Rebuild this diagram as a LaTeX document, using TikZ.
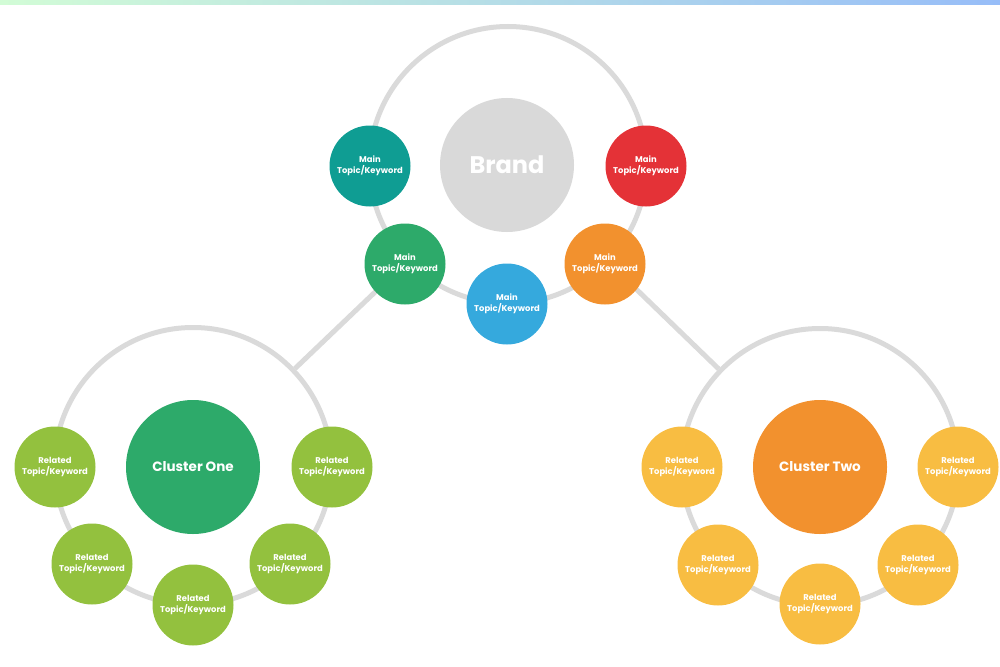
\documentclass[tikz,border=0pt]{standalone}
\usepackage{fontspec}
\setmainfont{Poppins}
\definecolor{barL}{HTML}{D2FCD6}
\definecolor{barR}{HTML}{97BDF8}
\definecolor{ringgray}{HTML}{DADADA}
\definecolor{brandgray}{HTML}{D9D9D9}
\definecolor{cteal}{HTML}{0F9D93}
\definecolor{cred}{HTML}{E43237}
\definecolor{cgreen}{HTML}{2DAA6A}
\definecolor{cblue}{HTML}{35A9DD}
\definecolor{corange}{HTML}{F2912E}
\definecolor{clime}{HTML}{93C13E}
\definecolor{cyellow}{HTML}{F8BD42}
\begin{document}
\begin{tikzpicture}[x=1pt,y=-1pt,
  ring/.style={circle, draw=ringgray, line width=5pt, minimum size=277pt, inner sep=0pt},
  link/.style={draw=ringgray, line width=5pt},
  ball/.style={circle, inner sep=0pt, minimum size=81pt, text=white, align=center,
    font=\bfseries\fontsize{8.4}{11}\selectfont},
  bigball/.style={circle, inner sep=0pt, minimum size=134pt, text=white, align=center}]
\useasboundingbox (0,0) rectangle (1000,666);
\shade[left color=barL, right color=barR] (0,0) rectangle (1000,4.5);
% rings
\node[ring] (brandring) at (508,165) {};
\node[ring] (ringone) at (193,466) {};
\node[ring] (ringtwo) at (820,467) {};
\draw[link] (brandring) -- (ringone);
\draw[link] (brandring) -- (ringtwo);
% brand
\node[bigball, fill=brandgray, font=\bfseries\fontsize{24}{28}\selectfont] (brand) at (507,165) {Brand};
\node[ball, fill=cteal] (m1) at (370,166) {Main\\Topic/Keyword};
\node[ball, fill=cred] (m2) at (646,166) {Main\\Topic/Keyword};
\node[ball, fill=cgreen] (m3) at (405,264) {Main\\Topic/Keyword};
\node[ball, fill=cblue] (m4) at (507,304) {Main\\Topic/Keyword};
\node[ball, fill=corange] (m5) at (605,264) {Main\\Topic/Keyword};
% cluster one
\node[bigball, fill=cgreen, font=\bfseries\fontsize{13.5}{17}\selectfont] (c1) at (193,467) {Cluster One};
\node[ball, fill=clime] (a1) at (55,467) {Related\\Topic/Keyword};
\node[ball, fill=clime] (a2) at (92,564) {Related\\Topic/Keyword};
\node[ball, fill=clime] (a3) at (193,605) {Related\\Topic/Keyword};
\node[ball, fill=clime] (a4) at (290,564) {Related\\Topic/Keyword};
\node[ball, fill=clime] (a5) at (332,467) {Related\\Topic/Keyword};
% cluster two
\node[bigball, fill=corange, font=\bfseries\fontsize{13.5}{17}\selectfont] (c2) at (820,467) {Cluster Two};
\node[ball, fill=cyellow] (b1) at (682,467) {Related\\Topic/Keyword};
\node[ball, fill=cyellow] (b2) at (718,565) {Related\\Topic/Keyword};
\node[ball, fill=cyellow] (b3) at (820,604) {Related\\Topic/Keyword};
\node[ball, fill=cyellow] (b4) at (918,565) {Related\\Topic/Keyword};
\node[ball, fill=cyellow] (b5) at (958,467) {Related\\Topic/Keyword};
\end{tikzpicture}
\end{document}
